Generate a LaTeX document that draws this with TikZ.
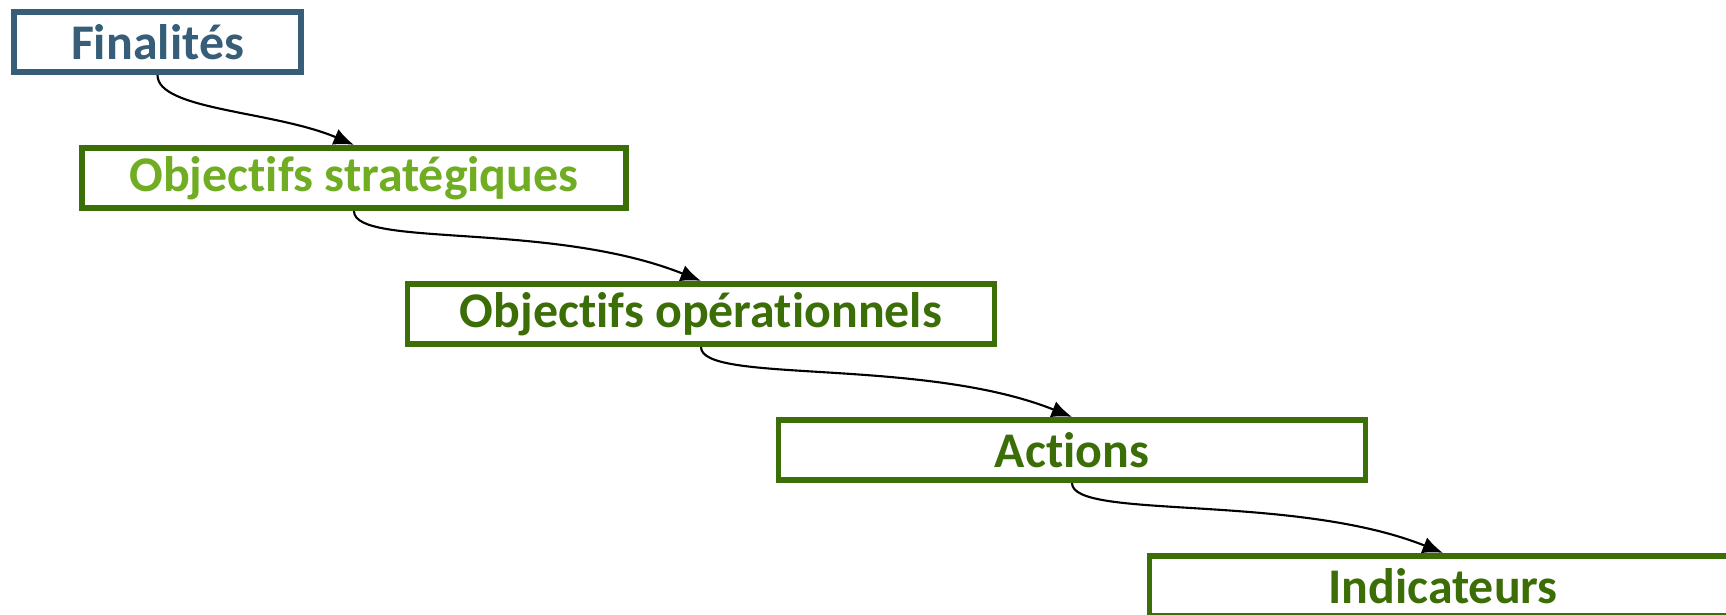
\documentclass[tikz,border=0pt]{standalone}
\usepackage{fontspec}
\setmainfont[Ligatures={NoCommon}]{Carlito}
\usetikzlibrary{arrows.meta}
\definecolor{finblue}{RGB}{55,94,121}
\definecolor{darkgreen}{RGB}{60,110,8}
\definecolor{lightgreen}{RGB}{112,173,34}
\tikzset{
  stage/.style={draw=darkgreen,text=darkgreen,line width=1.6pt,
    minimum width=5.87cm,minimum height=0.605cm,inner sep=0pt,
    font=\fontsize{14.2}{16}\selectfont\bfseries},
  link/.style={-{Latex[length=5.8pt,width=4.8pt]},line width=0.6pt}
}
\begin{document}
\begin{tikzpicture}
    \useasboundingbox (0,0) rectangle (17.26,-6.14);
    \clip (0,0) rectangle (17.26,-6.14);
    \node[stage,draw=finblue,text=finblue,minimum width=2.875cm] (fin) at (1.575,-0.42) {Finalités};
    \node[stage,text=lightgreen,minimum width=5.44cm] (strat) at (3.54,-1.78) {Objectifs stratégiques};
    \node[stage] (oper) at (7.01,-3.14) {Objectifs opérationnels};
    \node[stage] (act) at (10.72,-4.50) {Actions};
    \node[stage] (ind) at (14.43,-5.86) {Indicateurs};
    \draw[link] (fin.south) .. controls +(0,-0.35) and +(-0.8,0.34) .. (strat.north);
    \foreach \a/\b in {strat/oper,oper/act,act/ind} {
        \draw[link] (\a.south) .. controls +(0,-0.37) and +(-1.5,0.6) .. (\b.north);
    }
\end{tikzpicture}
\end{document}
